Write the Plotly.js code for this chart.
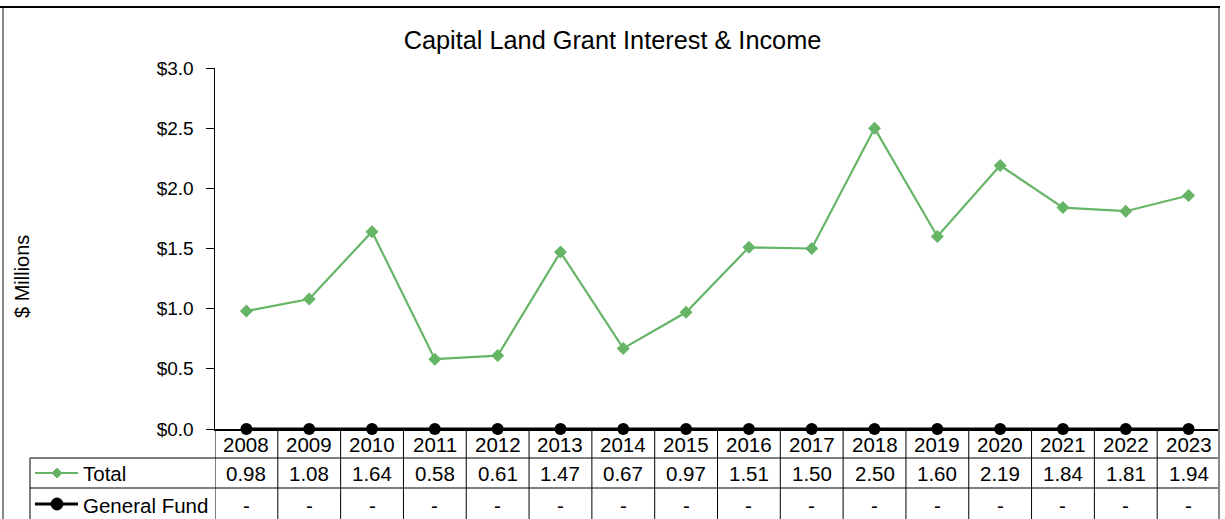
<!DOCTYPE html>
<html>
<head>
<meta charset="utf-8">
<script src="https://cdn.plot.ly/plotly-3.0.1.min.js"></script>
<style>html,body{margin:0;padding:0;background:#fff;}#chart{width:1225px;height:519px;}</style>
</head>
<body>
<div id="chart"></div>
<script>
const years = ["2008","2009","2010","2011","2012","2013","2014","2015","2016","2017","2018","2019","2020","2021","2022","2023"];
const totalValues = [0.98,1.08,1.64,0.58,0.61,1.47,0.67,0.97,1.51,1.50,2.50,1.60,2.19,1.84,1.81,1.94];
const generalFundValues = [0,0,0,0,0,0,0,0,0,0,0,0,0,0,0,0];
const generalFundLabels = years.map(() => "-");
const seriesNames = ["Total","General Fund"];
const chartTitle = "Capital Land Grant Interest & Income";
const yAxisTitle = "$ Millions";

const GREEN = "#66b566";
const FONT = "Liberation Sans, Arial, sans-serif";

// pixel helpers (plot area: x 215..1220, y 68..429)
const L = 215, R = 1220, T = 68, B = 429;
const W = R - L, H = B - T;
const px = x => (x - L) / W;
const py = y => (B - y) / H;

const traces = [
  {x: years, y: totalValues, type: "scatter", mode: "lines+markers", name: seriesNames[0],
   line: {color: GREEN, width: 2.2}, marker: {symbol: "diamond", size: 10, color: GREEN},
   cliponaxis: false, showlegend: false},
  {x: years, y: generalFundValues, type: "scatter", mode: "lines+markers", name: seriesNames[1],
   line: {color: "#000", width: 3}, marker: {symbol: "circle", size: 12, color: "#000"},
   cliponaxis: false, showlegend: false}
];

const shapes = [];
const annotations = [];
const rowY = [429, 458, 488, 525];
// vertical cell lines
for (let k = 0; k <= years.length; k++) {
  shapes.push({type: "line", xref: "x", yref: "paper", x0: k - 0.5, x1: k - 0.5,
    y0: py(rowY[0]), y1: py(rowY[3]), line: {color: "#000", width: 1}});
}
// horizontal lines
[rowY[1], rowY[2]].forEach(y => {
  shapes.push({type: "line", xref: "paper", yref: "paper", x0: px(30), x1: 1, y0: py(y), y1: py(y),
    line: {color: "#000", width: 1}});
});
// legend column left border
shapes.push({type: "line", xref: "paper", yref: "paper", x0: px(30), x1: px(30), y0: py(rowY[1]), y1: py(rowY[3]),
  line: {color: "#000", width: 1}});
// legend keys
const keyY1 = 473, keyY2 = 504;
shapes.push({type: "line", xref: "paper", yref: "paper", x0: px(35), x1: px(78), y0: py(keyY1), y1: py(keyY1),
  line: {color: GREEN, width: 2.2}});
shapes.push({type: "path", xref: "paper", yref: "paper", xsizemode: "pixel", ysizemode: "pixel",
  xanchor: px(57), yanchor: py(keyY1), path: "M 0 5 L 5 0 L 0 -5 L -5 0 Z",
  fillcolor: GREEN, line: {color: GREEN, width: 1}});
shapes.push({type: "line", xref: "paper", yref: "paper", x0: px(35), x1: px(78), y0: py(keyY2), y1: py(keyY2),
  line: {color: "#000", width: 3}});
shapes.push({type: "circle", xref: "paper", yref: "paper", xsizemode: "pixel", ysizemode: "pixel",
  xanchor: px(57), yanchor: py(keyY2), x0: -6, x1: 6, y0: -6, y1: 6,
  fillcolor: "#000", line: {color: "#000", width: 1}});
// outer frame
shapes.push({type: "line", xref: "paper", yref: "paper", x0: px(0), x1: px(1220), y0: py(7), y1: py(7),
  line: {color: "#000", width: 2}});
shapes.push({type: "line", xref: "paper", yref: "paper", x0: px(3), x1: px(3), y0: py(8), y1: py(525),
  line: {color: "#888", width: 2}});
shapes.push({type: "line", xref: "paper", yref: "paper", x0: px(1219), x1: px(1219), y0: py(8), y1: py(525),
  line: {color: "#888", width: 2}});

const tf = {family: FONT, size: 20.5, color: "#000"};
years.forEach((yr, i) => {
  annotations.push({xref: "x", yref: "paper", x: i, y: py(444), text: yr, showarrow: false, font: tf, yanchor: "middle"});
  annotations.push({xref: "x", yref: "paper", x: i, y: py(474), text: totalValues[i].toFixed(2), showarrow: false, font: tf, yanchor: "middle"});
  annotations.push({xref: "x", yref: "paper", x: i, y: py(505), text: generalFundLabels[i], showarrow: false, font: tf, yanchor: "middle"});
});
annotations.push({xref: "paper", yref: "paper", x: px(81), y: py(474), text: seriesNames[0], showarrow: false,
  font: tf, xanchor: "left", yanchor: "middle"});
annotations.push({xref: "paper", yref: "paper", x: px(81), y: py(505), text: seriesNames[1], showarrow: false,
  font: tf, xanchor: "left", yanchor: "middle"});
annotations.push({xref: "paper", yref: "paper", x: px(22), y: py(277), text: yAxisTitle, showarrow: false,
  textangle: -90, font: {family: FONT, size: 20, color: "#000"}, xanchor: "center", yanchor: "middle"});

const layout = {
  width: 1225, height: 519,
  margin: {l: L, r: 1225 - R, t: T, b: 519 - B, pad: 0},
  paper_bgcolor: "#fff", plot_bgcolor: "#fff",
  title: {text: chartTitle, font: {family: FONT, size: 25.3, color: "#000"},
    x: 0.5, xref: "container", xanchor: "center", y: 1 - 40 / 519, yref: "container", yanchor: "middle"},
  xaxis: {type: "category", categoryorder: "array", categoryarray: years, range: [-0.5, years.length - 0.5],
    showticklabels: false, ticks: "", showgrid: false, zeroline: false,
    showline: true, linecolor: "#000", linewidth: 1.5, fixedrange: true},
  yaxis: {range: [0, 3], dtick: 0.5, tick0: 0, tickformat: ".1f", tickprefix: "$",
    ticks: "outside", ticklen: 8, tickcolor: "#000", showgrid: false, zeroline: false,
    showline: true, linecolor: "#000", linewidth: 1.5, ticklabelstandoff: 8,
    tickfont: {family: FONT, size: 19, color: "#000"}, fixedrange: true},
  shapes: shapes,
  annotations: annotations,
  showlegend: false,
  font: {family: FONT}
};

Plotly.newPlot("chart", traces, layout, {displayModeBar: false, staticPlot: true});
</script>
</body>
</html>
